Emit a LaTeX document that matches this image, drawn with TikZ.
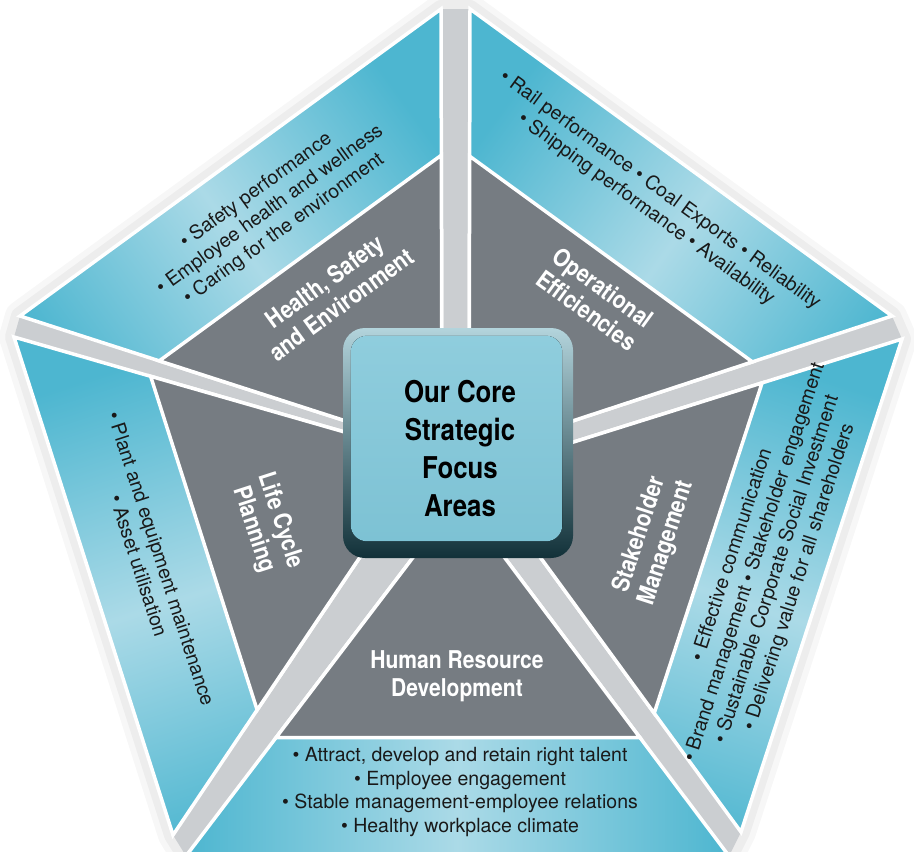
\documentclass[tikz,border=0pt]{standalone}
\usepackage{fontspec}
\setmainfont{TeX Gyre Heros}
\newfontfamily\corefont[FakeStretch=0.86]{TeX Gyre Heros}
\usetikzlibrary{calc,
                positioning
            }

\definecolor{bandDark}{HTML}{4DB6D0}
\definecolor{bandLight}{HTML}{ABDAE7}
\definecolor{sectorGray}{HTML}{767C82}
\definecolor{gapGray}{HTML}{CBCED1}
\definecolor{faceTop}{HTML}{8FCDDD}
\definecolor{faceBottom}{HTML}{7DC2D4}
\definecolor{edgeTop}{HTML}{B3D4DC}
\definecolor{edgeMid}{HTML}{4E8E9C}
\definecolor{edgeDark}{HTML}{123139}

\tikzset{
    band/.style={draw=white, line width=3.5pt, line join=miter,
        left color=bandDark, right color=bandDark, middle color=bandLight,
        shading angle=#1},
    sector/.style={fill=sectorGray, draw=white, line width=3.5pt, line join=miter},
    heading/.style={text=white, align=center, font=\corefont\bfseries\fontsize{24.5}{28}\selectfont},
    bullets/.style={text=black!90, align=center, font=\fontsize{19.5}{23.5}\selectfont},
    corebox/.style={rounded corners=22pt, minimum width=230pt, minimum height=230pt,
        top color=edgeTop, middle color=edgeMid, bottom color=edgeDark},
    coreface/.style={rounded corners=16pt, top color=faceTop, bottom color=faceBottom},
    coretext/.style={align=center, font=\corefont\bfseries\fontsize{30}{38}\selectfont}
}

\begin{document}
\begin{tikzpicture}[x=1pt, y=-1pt]
    \useasboundingbox (0,0) rectangle (914,852);
    \clip (0,0) rectangle (914,852);

    % corners of the five sectors: centre end, then the two outer ends
    \coordinate (hseC) at (442,452); \coordinate (hseA) at (441,9);   \coordinate (hseB) at (20,316);
    \coordinate (oeC)  at (469,455); \coordinate (oeA)  at (470,9);   \coordinate (oeB)  at (892,316);
    \coordinate (smC)  at (478,472); \coordinate (smA)  at (902,339); \coordinate (smB)  at (741,832);
    \coordinate (hrdC) at (459,497); \coordinate (hrdA) at (729,856); \coordinate (hrdB) at (186,856);
    \coordinate (lcpC) at (428,456); \coordinate (lcpA) at (173,835); \coordinate (lcpB) at (14,337);

    % soft shadow and grey gaps
    \path[draw=black, opacity=0.03, line width=30pt, line join=round]
        (hseA) -- (oeA) -- (oeB) -- (smA) -- (smB) -- (hrdA) -- (hrdB) -- (lcpA) -- (lcpB) -- (hseB) -- cycle;
    \path[draw=black, opacity=0.04, line width=18pt, line join=round]
        (hseA) -- (oeA) -- (oeB) -- (smA) -- (smB) -- (hrdA) -- (hrdB) -- (lcpA) -- (lcpB) -- (hseB) -- cycle;
    \fill[gapGray]
        (hseA) -- (oeA) -- (oeB) -- (smA) -- (smB) -- (hrdA) -- (hrdB) -- (lcpA) -- (lcpB) -- (hseB) -- cycle;

    % blue bands
    \draw[band=-54]  (hseC) -- (hseA) -- (hseB) -- cycle;
    \draw[band=54]   (oeC) -- (oeA) -- (oeB) -- cycle;
    \draw[band=-18]  (smC) -- (smA) -- (smB) -- cycle;
    \draw[band=90]   (hrdC) -- (hrdA) -- (hrdB) -- cycle;
    \draw[band=18]   (lcpC) -- (lcpA) -- (lcpB) -- cycle;

    % grey inner triangles
    \draw[sector] (hseC) -- ($(hseC)!0.67!(hseA)$) -- ($(hseC)!0.67!(hseB)$) -- cycle;
    \draw[sector] (oeC) -- ($(oeC)!0.67!(oeA)$) -- ($(oeC)!0.67!(oeB)$) -- cycle;
    \draw[sector] (smC) -- ($(smC)!0.67!(smA)$) -- ($(smC)!0.67!(smB)$) -- cycle;
    \draw[sector] (hrdC) -- ($(hrdC)!0.67!(hrdA)$) -- ($(hrdC)!0.67!(hrdB)$) -- cycle;
    \draw[sector] (lcpC) -- ($(lcpC)!0.67!(lcpA)$) -- ($(lcpC)!0.67!(lcpB)$) -- cycle;

    % centre box
    \node[corebox] (core) at (458,443) {};
    \fill[coreface] ([shift={(8,8)}]core.north west) rectangle ([shift={(-11,-17)}]core.south east);
    \node[coretext] (coreLabel) at (460,449) {Our Core\\Strategic\\Focus\\Areas};

    % sector headings
    \node[heading, rotate=36]  (hseHead) at (333,293) {Health, Safety\\and Environment};
    \node[heading, rotate=-36] (oeHead)  at (595,299) {Operational\\Efficiencies};
    \node[heading, rotate=72]  (smHead)  at (653,539) {Stakeholder\\Management};
    \node[heading]             (hrdHead) at (457,676) {Human Resource\\Development};
    \node[heading, rotate=-72] (lcpHead) at (267,525) {Life Cycle\\Planning};

    % bullet lists
    \node[bullets, rotate=36] (hseList) at (270,210)
        {\textbullet\ Safety performance\\\textbullet\ Employee health and wellness\\\textbullet\ Caring for the environment};
    \node[bullets, rotate=-36] (oeList) at (653,200)
        {\textbullet\ Rail performance \textbullet\ Coal Exports \textbullet\ Reliability\\\textbullet\ Shipping performance \textbullet\ Availability};
    \node[bullets, rotate=72] (smList) at (766,566)
        {\textbullet\ Effective communication\\\textbullet\ Brand management \textbullet\ Stakeholder engagement\\\textbullet\ Sustainable Corporate Social Investment\\\textbullet\ Delivering value for all shareholders};
    \node[bullets] (hrdList) at (460,792)
        {\textbullet\ Attract, develop and retain right talent\\\textbullet\ Employee engagement\\\textbullet\ Stable management-employee relations\\\textbullet\ Healthy workplace climate};
    \node[bullets, rotate=-72] (lcpList) at (150,562)
        {\textbullet\ Plant and equipment maintenance\\\textbullet\ Asset utilisation};
\end{tikzpicture}
\end{document}
